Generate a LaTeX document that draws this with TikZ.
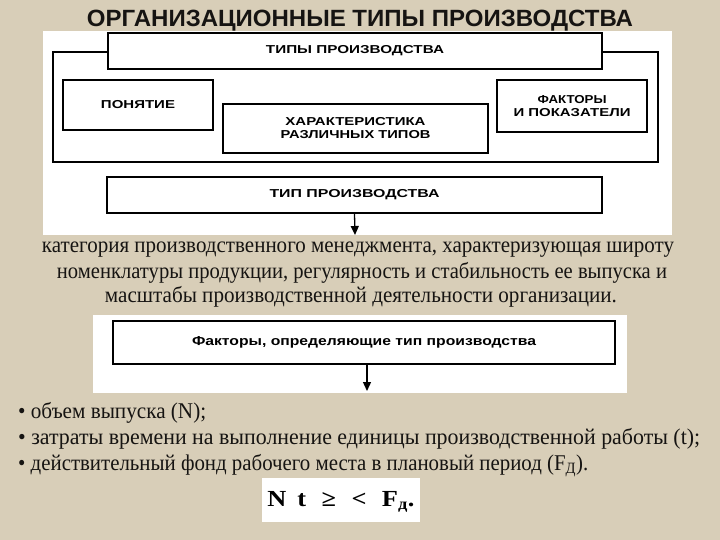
\documentclass[tikz,border=0pt]{standalone}
\usepackage{fontspec}
\setmainfont{Liberation Serif}
\newfontfamily\hsans{Liberation Sans}
\usepackage{graphicx}
\usetikzlibrary{arrows.meta}
\definecolor{bgbeige}{RGB}{216,206,184}
\definecolor{ink}{RGB}{22,20,18}
\newcommand{\fitto}[2]{\resizebox{#1}{\height}{#2}}
\begin{document}
\begin{tikzpicture}[x=1pt,y=-1pt,
  box/.style={draw=black,line width=1.6pt,fill=white,inner sep=0pt,align=center,
    font=\hsans\bfseries\fontsize{11.5}{13}\selectfont},
  arr/.style={-{Triangle[length=9pt,width=8pt]},line width=1.3pt},
  para/.style={anchor=base,inner sep=0pt,text=ink,font=\fontsize{22.5}{26}\selectfont},
  bul/.style={anchor=base west,inner sep=0pt,text=ink,font=\fontsize{22.5}{26}\selectfont}]
\fill[bgbeige] (0,0) rectangle (720,540);
\useasboundingbox (0,0) rectangle (720,540);
% title
\node[anchor=base,inner sep=0pt,text=ink,font=\hsans\bfseries\fontsize{23.5}{26}\selectfont] (title) at (360,27)
  {\fitto{546pt}{ОРГАНИЗАЦИОННЫЕ ТИПЫ ПРОИЗВОДСТВА}};
% upper panel
\fill[white] (43,31) rectangle (672,235);
\node[box,fill=none,minimum width=605pt,minimum height=110pt] (outer) at (355.5,107) {};
\node[box,minimum width=494pt,minimum height=36pt] (banner) at (355,51) {\fitto{178pt}{ТИПЫ ПРОИЗВОДСТВА}};
\node[box,minimum width=150pt,minimum height=50pt] (ponyatie) at (138,105) {\fitto{74pt}{ПОНЯТИЕ}};
\node[box,minimum width=265pt,minimum height=49pt] (harakt) at (355.5,128.5)
  {\fitto{140pt}{ХАРАКТЕРИСТИКА}\\\fitto{150pt}{РАЗЛИЧНЫХ ТИПОВ}};
\node[box,minimum width=150pt,minimum height=52pt] (faktory) at (572,106)
  {\fitto{69pt}{ФАКТОРЫ}\\\fitto{117pt}{И ПОКАЗАТЕЛИ}};
\node[box,minimum width=495pt,minimum height=36pt] (tip) at (354.5,195) {\fitto{170pt}{ТИП ПРОИЗВОДСТВА}};
\coordinate (a1) at (355,235);
\draw[arr] (tip.south) -- (a1);
% paragraph
\node[para] (p1) at (358,252.5) {\fitto{632pt}{категория производственного менеджмента, характеризующая широту}};
\node[para] (p2) at (362,278.5) {\fitto{610pt}{номенклатуры продукции, регулярность и стабильность ее выпуска и}};
\node[para] (p3) at (361,302) {\fitto{512pt}{масштабы производственной деятельности организации.}};
% lower panel
\fill[white] (93,315) rectangle (627,393);
\node[box,minimum width=502pt,minimum height=43pt,font=\hsans\bfseries\fontsize{13}{15}\selectfont] (fakt2) at (364,342.5)
  {\fitto{344pt}{Факторы, определяющие тип производства}};
\coordinate (a2) at (367,391);
\draw[arr] (fakt2.south -| a2) -- (a2);
% bullets
\node[bul] (b1) at (18,418) {\fitto{188pt}{• объем выпуска (N);}};
\node[bul] (b2) at (18,444) {\fitto{682pt}{• затраты времени на выполнение единицы производственной работы (t);}};
\node[bul] (b3) at (18,470) {\fitto{570pt}{• действительный фонд рабочего места в плановый период (F\textsubscript{Д}).}};
% formula
\fill[white] (262,478) rectangle (420,522);
\node[anchor=base,inner sep=0pt,font=\bfseries\fontsize{23}{26}\selectfont] (formula) at (341,506)
  {\fitto{147pt}{N\, t\, \,≥\, \,<\, \,F\textsubscript{д}.}};
\end{tikzpicture}
\end{document}
